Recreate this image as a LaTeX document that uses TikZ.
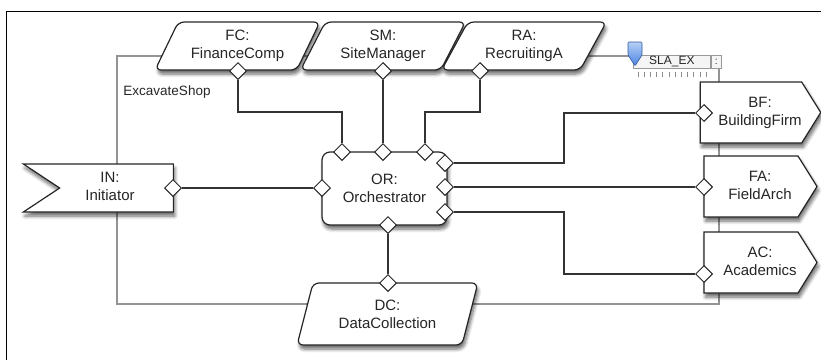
\documentclass[tikz,border=0pt]{standalone}
\usepackage{fontspec}
\setmainfont{Liberation Sans}
\usetikzlibrary{shapes.geometric,shapes.symbols,shadows.blur,positioning}
\definecolor{markhi}{HTML}{B5D0F7}
\definecolor{marklo}{HTML}{4A82E0}
\newcommand\rolename[3]{\hspace*{#1}\begin{tabular}{@{}c@{}}#2\\#3\end{tabular}}

\begin{document}
\begin{tikzpicture}[x=1pt,y=-1pt,
    every node/.style={font=\fontsize{15}{18}\selectfont,text=black!85,align=center},
    softshadow/.style={blur shadow={shadow xshift=1.5pt,shadow yshift=-4pt,shadow blur radius=3.5pt,shadow blur steps=6,shadow opacity=60}},
    role/.style={draw=black!85,line width=1.2pt,fill=white,softshadow,inner sep=0pt},
    partner/.style={role,trapezium,trapezium left angle=60,trapezium right angle=120,
      trapezium stretches=true,rounded corners=6pt,minimum width=165,minimum height=48},
    service/.style={role,signal,signal to=east,signal pointer angle=116,
      minimum width=113,minimum height=61},
    port/.style={diamond,draw=black!85,fill=white,line width=1pt,minimum size=17,inner sep=0pt},
    wire/.style={draw=black!80,line width=1.1pt},
    shopline/.style={draw=black!42,line width=1.6pt}]
  \useasboundingbox (0,0) rectangle (821,360);
  \draw[line width=1pt] (6,360) -- (6,11) -- (821,11);

  % composite boundary
  \draw[shopline] (117,56) rectangle (719,304);
  \node[font=\fontsize{13.5}{16}\selectfont] (shop) at (167,92) {ExcavateShop};

  % SLA widget
  \node[draw=black!40,fill=black!4,line width=0.8pt,anchor=north west,minimum width=77,
    minimum height=13,inner sep=0pt,font=\fontsize{12}{12}\selectfont] (sla) at (633,55) {SLA\_EX};
  \node[draw=black!40,fill=black!4,line width=0.8pt,minimum width=10,minimum height=13,
    inner sep=0pt,font=\fontsize{10}{10}\selectfont,right=0pt of sla] (sla_btn) {:};
  \foreach \i in {0,...,11}
    \draw[black!45,line width=0.8pt] ({638+6.2*\i},72) -- ++(0,5);
  \shade[top color=markhi,bottom color=marklo,draw=marklo!70!black,line width=0.6pt,rounded corners=1pt]
    (628,42) -- (642,42) -- (642,55) -- (635,66) -- (628,55) -- cycle;

  % roles
  \node[partner] (fc) at (237.5,46) {FC:\\FinanceComp};
  \node[partner] (sm) at (383,46) {SM:\\SiteManager};
  \node[partner] (ra) at (524,46) {RA:\\RecruitingA};
  \node[role,signal,signal from=west,signal to=nowhere,signal pointer angle=67,
    minimum width=150,minimum height=48] (ini) at (116.5,188) {\rolename{0pt}{IN:}{Initiator}\hspace*{13pt}};
  \node[role,rectangle,rounded corners=8pt,minimum width=125,minimum height=73] (orc) at (384.5,188.5) {OR:\\Orchestrator};
  \node[service] (bf) at (751,112.5) {\rolename{18pt}{BF:}{BuildingFirm}};
  \node[service] (fa) at (751,186.5) {\rolename{18pt}{FA:}{FieldArch}};
  \node[service] (ac) at (751,262.5) {\rolename{18pt}{AC:}{Academics}};
  \node[role,trapezium,trapezium left angle=70,trapezium right angle=110,trapezium stretches=true,
    rounded corners=6pt,minimum width=181,minimum height=62] (dc) at (387.5,314) {DC:\\DataCollection};

  % ports
  \node[port] (p_fc) at (238,71) {};
  \node[port] (p_sm) at (383,71) {};
  \node[port] (p_ra) at (480,71) {};
  \node[port] (p_ini) at (173,188) {};
  \node[port] (p_o1) at (342,152) {};
  \node[port] (p_o2) at (383,152) {};
  \node[port] (p_o3) at (425,152) {};
  \node[port] (p_o4) at (445,163) {};
  \node[port] (p_o5) at (445,187) {};
  \node[port] (p_o6) at (445,212) {};
  \node[port] (p_ol) at (322,188) {};
  \node[port] (p_ob) at (388,225) {};
  \node[port] (p_bf) at (704,113) {};
  \node[port] (p_fa) at (704,187) {};
  \node[port] (p_ac) at (704,274) {};
  \node[port] (p_dc) at (388,283) {};

  % connectors
  \coordinate (j_fc) at (238,112);
  \coordinate (j_ra) at (480,112);
  \coordinate (j_bf) at (564,113);
  \coordinate (j_ac) at (564,274);
  \draw[wire] (p_fc) -- (j_fc) -| (p_o1);
  \draw[wire] (p_ra) -- (j_ra) -| (p_o3);
  \draw[wire] (p_o4) -| (j_bf) -- (p_bf);
  \draw[wire] (p_o6) -| (j_ac) -- (p_ac);
  \draw[wire] (p_sm) edge (p_o2)
    (p_o5) edge (p_fa)
    (p_ini) edge (p_ol)
    (p_ob) edge (p_dc);
\end{tikzpicture}
\end{document}
